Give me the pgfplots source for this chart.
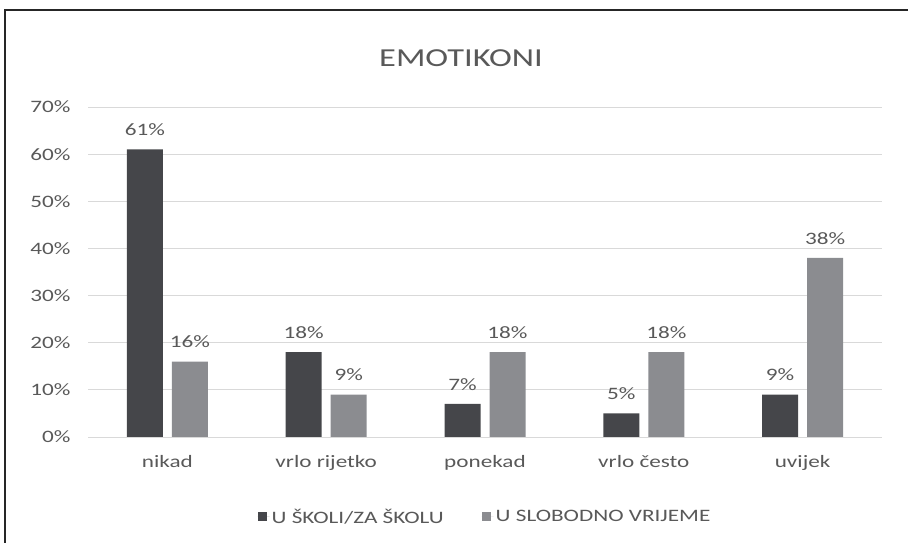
\documentclass[border=0pt]{standalone}
\usepackage{fontspec}
\setmainfont{Carlito}[FakeStretch=1.33]
\usepackage{pgfplots}
\pgfplotsset{compat=1.18}
\definecolor{darkbar}{HTML}{45464A}
\definecolor{lightbar}{HTML}{8B8C90}
\definecolor{txt}{HTML}{595959}
\definecolor{gridc}{HTML}{D9D9D9}
\begin{document}
\begin{tikzpicture}[x=1bp,y=1bp]
\useasboundingbox (0,0) rectangle (908,543);
\draw[color=black!85,line width=1.2bp] (5,-5) -- (5,533) -- (913,533);
\node[text=txt,font=\fontsize{26}{30}\selectfont] at (461,485) {EMOTIKONI};
\begin{axis}[
  at={(88bp,106bp)}, anchor=south west,
  scale only axis, width=794bp, height=330bp,
  ymin=0, ymax=70, ytick={0,10,...,70},
  yticklabel={\pgfmathprintnumber{\tick}\%},
  xmin=-0.5, xmax=4.5,
  xtick={0,1,2,3,4},
  xticklabels={nikad, vrlo rijetko, ponekad, vrlo često, uvijek},
  /pgf/number format/assume math mode=true,
  ticklabel style={text=txt,font=\fontsize{17.5}{20}\selectfont},
  yticklabel style={xshift=-14bp},
  xticklabel style={yshift=-15bp},
  major tick length=0pt,
  axis line style={draw=none},
  ymajorgrids, grid style={gridc, line width=0.8bp},
  ybar, bar width=36bp,
  nodes near coords={\pgfmathprintnumber[fixed,precision=0]{\pgfplotspointmeta}\%},
  every node near coord/.append style={text=txt,font=\fontsize{17.5}{20}\selectfont, yshift=10bp},
  legend style={at={(0.5,-0.242)},anchor=center,draw=none,legend columns=2,
    font=\fontsize{17.5}{20}\selectfont, text=txt,
    /tikz/every even column/.append style={column sep=36bp}},
  legend image code/.code={\fill[#1] (0bp,-4.5bp) rectangle (9bp,4.5bp); \path (0bp,0bp) -- (12bp,0bp);},
  clip=false,
]
\addplot[fill=darkbar,draw=none,bar shift=-22.5bp] coordinates {(0,61) (1,18) (2,7) (3,5) (4,9)};
\addplot[fill=lightbar,draw=none,bar shift=22.5bp] coordinates {(0,16) (1,9) (2,18) (3,18) (4,38)};
\draw[gridc,line width=0.8bp] (rel axis cs:0,0) -- (rel axis cs:1,0);
\legend{U ŠKOLI/ZA ŠKOLU, U SLOBODNO VRIJEME}
\end{axis}
\end{tikzpicture}
\end{document}
